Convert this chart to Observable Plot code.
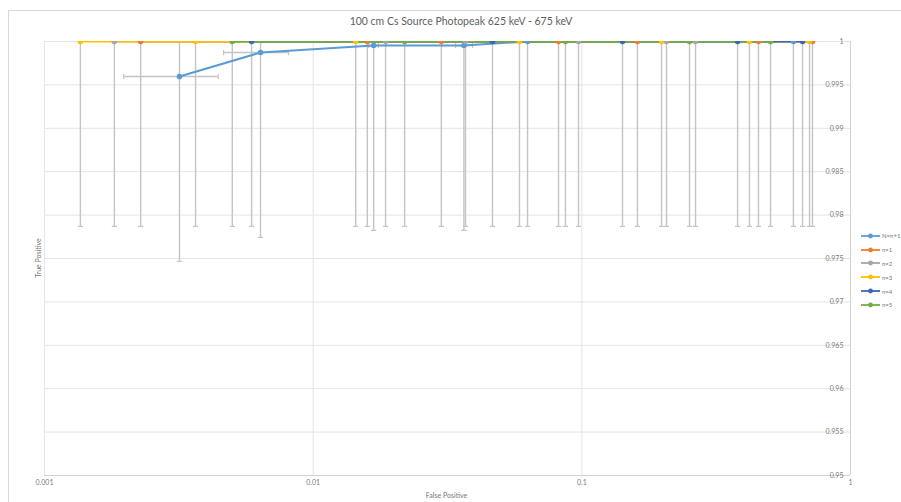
<!DOCTYPE html>
<html>
<head>
<meta charset="utf-8">
<script src="https://cdn.jsdelivr.net/npm/d3@7"></script>
<script src="https://cdn.jsdelivr.net/npm/@observablehq/plot@0.6"></script>
<style>
  html, body { margin: 0; padding: 0; background: #fff; }
  #wrap { position: relative; width: 901px; height: 502px; overflow: hidden; font-family: Lato, "Liberation Sans", sans-serif; background: #fff; }
  #border { position: absolute; left: 8px; top: 10px; width: 920px; height: 520px; border-left: 1px solid #d9d9d9; border-top: 1px solid #d9d9d9; box-sizing: border-box; }
  #chart { position: absolute; left: 0; top: 0; }
  #title { position: absolute; top: 15px; left: 0; width: 922px; text-align: center; font-size: 10.5px; color: #5f5f5f; white-space: nowrap; }
  #xtitle { position: absolute; top: 491px; left: 0; width: 893px; text-align: center; font-size: 7px; color: #777; }
  #ytitle { position: absolute; left: 38px; top: 258px; transform: translate(-50%, -50%) rotate(-90deg); font-size: 7px; color: #777; white-space: nowrap; }
  #legend { position: absolute; left: 861px; top: 229px; font-size: 6px; color: #777; }
  .lg { display: flex; align-items: center; height: 13.8px; white-space: nowrap; }
  .lg svg { margin-right: 2px; }
</style>
</head>
<body>
<div id="wrap">
  <div id="border"></div>
  <div id="chart"></div>
  <div id="title">100 cm Cs Source Photopeak 625 keV - 675 keV</div>
  <div id="xtitle">False Positive</div>
  <div id="ytitle">True Positive</div>
  <div id="legend"></div>
</div>
<script>
// ---- Data ----
const seriesNames = ["N=n+1", "n=1", "n=2", "n=3", "n=4", "n=5"];
const seriesColors = ["#5B9BD5", "#ED7D31", "#A5A5A5", "#FFC000", "#3F66B0", "#70AD47"];

// N=n+... (with horizontal error bars)
const fpN     = [0.00318, 0.00637, 0.0168, 0.0364, 0.0628, 0.613];
const tpN     = [0.99597, 0.99873, 0.99954, 0.99954, 1.0, 1.0];
const fpLoN   = [0.00197, 0.00464, 0.0161, 0.0339, 0.0628, 0.613];
const fpHiN   = [0.00443, 0.00810, 0.0175, 0.0392, 0.0628, 0.613];

const fp1 = [0.00228, 0.0159, 0.0300, 0.0819, 0.161, 0.4545, 0.722];
const tp1 = [1, 1, 1, 1, 1, 1, 1];
const fp2 = [0.00182, 0.0186, 0.0369, 0.0972, 0.2066, 0.265];
const tp2 = [1, 1, 1, 1, 1, 1];
const fp3 = [0.00136, 0.00365, 0.0144, 0.0586, 0.198, 0.4207, 0.704];
const tp3 = [1, 1, 1, 1, 1, 1, 1];
const fp4 = [0.0059, 0.0465, 0.1417, 0.380, 0.663];
const tp4 = [1, 1, 1, 1, 1];
const fp5 = [0.0050, 0.0219, 0.0869, 0.2516, 0.504];
const tp5 = [1, 1, 1, 1, 1];

// vertical error bar half-length (true positive)
const tpErr = 0.0213;

const xTicks = [0.001, 0.01, 0.1, 1];
const xTickLabels = ["0.001", "0.01", "0.1", "1"];
const yTicks = [0.95, 0.955, 0.96, 0.965, 0.97, 0.975, 0.98, 0.985, 0.99, 0.995, 1];
const yTickLabels = ["0.95", "0.955", "0.96", "0.965", "0.97", "0.975", "0.98", "0.985", "0.99", "0.995", "1"];

// ---- Build table ----
const fpAll = [fpN, fp1, fp2, fp3, fp4, fp5];
const tpAll = [tpN, tp1, tp2, tp3, tp4, tp5];
const rows = [];
fpAll.forEach((fps, s) => {
  fps.forEach((fp, i) => {
    rows.push({
      series: seriesNames[s], s, fp, tp: tpAll[s][i],
      fpLo: s === 0 ? fpLoN[i] : fp,
      fpHi: s === 0 ? fpHiN[i] : fp
    });
  });
});
const hRows = rows.filter(d => d.fpHi > d.fpLo);

const hCap = { draw(ctx, size) { const r = Math.sqrt(size / Math.PI); ctx.moveTo(-r, 0); ctx.lineTo(r, 0); } };
const vCap = { draw(ctx, size) { const r = Math.sqrt(size / Math.PI); ctx.moveTo(0, -r); ctx.lineTo(0, r); } };

const errColor = "#c4c4c4";
const gridColor = "#e4e4e4";

const seriesMarks = [];
seriesNames.forEach((name, s) => {
  const data = rows.filter(d => d.s === s);
  seriesMarks.push(Plot.line(data, { x: "fp", y: "tp", stroke: seriesColors[s], strokeWidth: 2, clip: true }));
});
seriesNames.forEach((name, s) => {
  const data = rows.filter(d => d.s === s);
  seriesMarks.push(Plot.dot(data, { x: "fp", y: "tp", fill: seriesColors[s], r: 2.8, clip: true }));
});

const chart = Plot.plot({
  width: 901,
  height: 502,
  marginLeft: 44,
  marginRight: 51,
  marginTop: 41,
  marginBottom: 27,
  style: { fontFamily: "Lato, 'Liberation Sans', sans-serif", background: "transparent" },
  x: { type: "log", domain: [0.001, 1], label: null },
  y: { domain: [0.95, 1], label: null },
  marks: [
    Plot.ruleY(yTicks, { stroke: gridColor, strokeWidth: 1 }),
    Plot.ruleX(xTicks, { stroke: gridColor, strokeWidth: 1 }),
    Plot.ruleY([0.95], { stroke: "#d2d2d2", strokeWidth: 1 }),
    Plot.ruleX([1], { stroke: "#d2d2d2", strokeWidth: 1 }),
    Plot.axisX(xTicks, {
      tickSize: 0, tickPadding: 5, fontSize: 7, fill: "#7a7a7a", label: null,
      tickFormat: d => xTickLabels[xTicks.indexOf(d)]
    }),
    Plot.axisY(yTicks, {
      anchor: "right", tickSize: 0, tickPadding: -7, textAnchor: "end", fontSize: 7, fill: "#7a7a7a", label: null,
      tickFormat: d => yTickLabels[yTicks.findIndex(v => Math.abs(v - d) < 1e-9)]
    }),
    // vertical error bars
    Plot.ruleX(rows, { x: "fp", y1: d => d.tp - tpErr, y2: d => d.tp + tpErr, stroke: errColor, strokeWidth: 1.4, clip: true }),
    Plot.dot(rows, { x: "fp", y: d => d.tp - tpErr, symbol: hCap, r: 2.6, stroke: errColor, fill: "none", strokeWidth: 1.2, clip: true }),
    // horizontal error bars
    Plot.ruleY(hRows, { y: "tp", x1: "fpLo", x2: "fpHi", stroke: errColor, strokeWidth: 1.4, clip: true }),
    Plot.dot(hRows, { x: "fpLo", y: "tp", symbol: vCap, r: 2.6, stroke: errColor, fill: "none", strokeWidth: 1.2, clip: true }),
    Plot.dot(hRows, { x: "fpHi", y: "tp", symbol: vCap, r: 2.6, stroke: errColor, fill: "none", strokeWidth: 1.2, clip: true }),
    ...seriesMarks
  ]
});
document.getElementById("chart").appendChild(chart);

// ---- Legend ----
const legend = document.getElementById("legend");
seriesNames.forEach((name, s) => {
  const row = document.createElement("div");
  row.className = "lg";
  row.innerHTML = `<svg width="19" height="8"><line x1="0" y1="4" x2="19" y2="4" stroke="${seriesColors[s]}" stroke-width="1.8"/><circle cx="9.5" cy="4" r="2.4" fill="${seriesColors[s]}"/></svg><span>${name}</span>`;
  legend.appendChild(row);
});
</script>
</body>
</html>
